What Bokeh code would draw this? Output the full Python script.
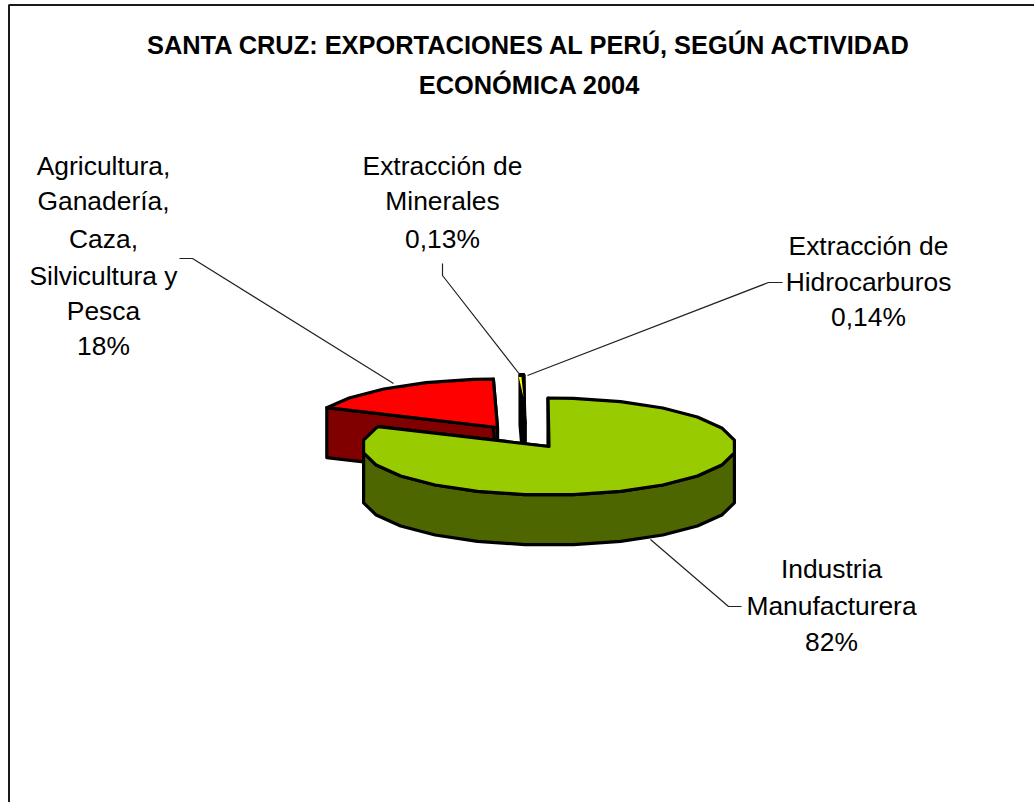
import numpy as np
from bokeh.plotting import figure
from bokeh.embed import file_html
from bokeh.resources import INLINE
from bokeh.core.properties import value

categories = ["Industria Manufacturera",
              "Agricultura, Ganadería, Caza, Silvicultura y Pesca",
              "Extracción de Minerales",
              "Extracción de Hidrocarburos"]
shares = [82, 18, 0.13, 0.14]
top_colors = ["#99CC00", "#FF0000", "#FFFF00", "#000000"]
side_colors = ["#4D6600", "#800000", "#000000", "#000000"]
title_lines = ["SANTA CRUZ: EXPORTACIONES AL PERÚ, SEGÚN ACTIVIDAD", "ECONÓMICA 2004"]
label_lines = [["Industria", "Manufacturera", "82%"],
               ["Agricultura,", "Ganadería,", "Caza,", "Silvicultura y", "Pesca", "18%"],
               ["Extracción de", "Minerales", "0,13%"],
               ["Extracción de", "Hidrocarburos", "0,14%"]]

# --- layout ---
W, H = 1034, 802
A, B, DEPTH = 187.0, 48.5, 50.0
START = -0.3
STEP = 15.0
centers = [(548.5, 446.0), (497.0, 427.0), (524.0, 423.0), (524.0, 423.0)]
label_cx = [831, 103, 442, 868]
label_y = [[568, 605, 641], [165, 200, 238, 275, 310, 345], [165, 200, 238], [245, 281, 316]]
title_y = [44, 84]
leaders = [([650, 728, 741], [539, 606, 606]),
           ([393, 192, 179], [383, 258, 258]),
           ([520, 442, 442], [375, 275, 263]),
           ([527, 768, 782], [375, 282, 282])]

TITLE_PX = "25.4px"
LABEL_PX = "26.4px"

def pt(c, th):
    t = np.radians(th)
    return c[0] + A * np.sin(t), c[1] - B * np.cos(t)

def arc_angles(a0, a1):
    inner = [th for th in np.arange(7.5 - 720, 720, STEP) if a0 < th < a1]
    return [a0] + inner + [a1]

p = figure(width=W, height=H, x_range=(0, W), y_range=(H, 0), output_backend="svg",
           toolbar_location=None, min_border=0, outline_line_color=None,
           background_fill_color="white", border_fill_color="white")
p.axis.visible = False
p.grid.visible = False

# frame
p.line([8.5, 8.5, W], [H, 4.5, 4.5], line_color="#1a1a1a", line_width=2)

# slice angles, clockwise from 12 o'clock
total = sum(shares)
edges = START + np.cumsum([0] + [s / total * 360 for s in shares])

# leader lines
for lx, ly in leaders:
    p.line(lx, ly, line_color="#222222", line_width=1.2)

LW = 3.2
def draw_slice(i, lw=LW, walls=True):
    c = centers[i]
    a0, a1 = edges[i], edges[i + 1]
    # cut faces
    for a in (a0, a1):
        x, y = pt(c, a)
        p.patch([c[0], x, x, c[0]], [c[1], y, y + DEPTH, c[1] + DEPTH],
                fill_color=side_colors[i], line_color="black", line_width=lw, line_join="round")
    # outer wall (front half)
    if walls and a1 > 90 and a0 < 270:
        angs = arc_angles(max(a0, 97.5), min(a1, 262.5))
        xs, ys = zip(*[pt(c, a) for a in angs])
        p.patch(list(xs) + list(xs[::-1]), list(ys) + [y + DEPTH for y in ys[::-1]],
                fill_color=side_colors[i], line_color="black", line_width=lw, line_join="round")
    # top face
    xs, ys = zip(*[pt(c, a) for a in arc_angles(a0, a1)])
    p.patch([c[0]] + list(xs), [c[1]] + list(ys), fill_color=top_colors[i],
            line_color="black", line_width=lw, line_join="round")

# back to front: red, slivers, green
draw_slice(1)
draw_slice(3, lw=3.8)
draw_slice(2, lw=3.8)
# sliver tip colour stays visible over the thick outline
c = centers[2]
xs, ys = zip(*[pt(c, a) for a in (edges[2], edges[3])])
p.patch([c[0] - 1.0, xs[0] - 1.6, xs[1] - 0.4], [c[1] - 26, ys[0] + 2, ys[1] + 2],
        fill_color=top_colors[2], line_color=None)
draw_slice(0)

# texts
for t, y in zip(title_lines, title_y):
    p.text([529], [y], text=[t], text_font=value("Liberation Sans"), text_font_style="bold",
           text_font_size=TITLE_PX, text_align="center", text_baseline="middle", text_color="black")
for lines, cx, ys in zip(label_lines, label_cx, label_y):
    p.text([cx] * len(lines), ys, text=lines, text_font=value("Liberation Sans"),
           text_font_size=LABEL_PX, text_align="center", text_baseline="middle", text_color="black")

open("out.html", "w").write(file_html(p, INLINE))
